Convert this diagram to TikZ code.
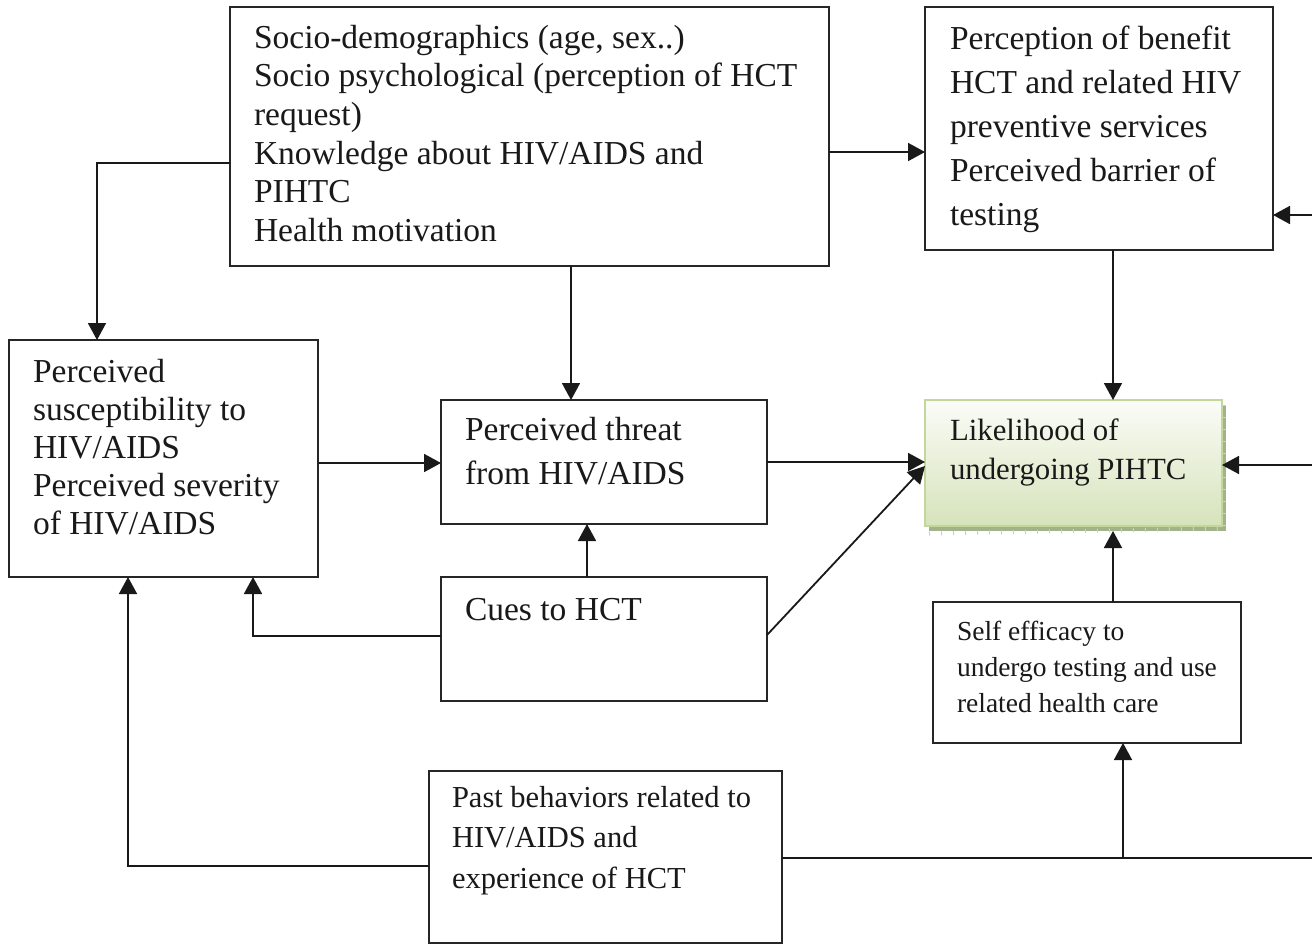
\documentclass[tikz,border=0pt]{standalone}
\usepackage{fontspec}
\setmainfont{Liberation Serif}
\usetikzlibrary{arrows.meta}
\definecolor{likgreen}{HTML}{D6E3BA}
\definecolor{liktop}{HTML}{FBFCF8}
\definecolor{likborder}{HTML}{C3D69B}
\definecolor{likshadow}{HTML}{A2B38A}
\definecolor{likshtick}{HTML}{C9D3B8}
\newcommand\fMain{\fontsize{16.75}{19.35}\selectfont}
\newcommand\fPerc{\fontsize{16.75}{22}\selectfont}
\newcommand\fSusc{\fontsize{16.75}{19.1}\selectfont}
\newcommand\fLik{\fontsize{15.4}{19.5}\selectfont}
\newcommand\fSelf{\fontsize{13.75}{18.15}\selectfont}
\newcommand\fPast{\fontsize{15.25}{20.25}\selectfont}
\newcommand\fs{\rule{0pt}{1em}}
\begin{document}
\begin{tikzpicture}[x=0.5pt,y=-0.5pt,
  box/.style={draw=black!85, line width=0.8pt, anchor=north west, inner sep=0pt, outer sep=0pt, fill=white},
  txt/.style={anchor=north west, inner sep=0pt, outer sep=0pt, align=left, text=black!90},
  arr/.style={draw=black!90, line width=0.9pt, -{Triangle[length=8.5pt,width=9pt]}},
  ln/.style={draw=black!90, line width=0.9pt}]
\useasboundingbox (0,0) rectangle (1312,944);
\fill[white] (0,0) rectangle (1312,944);

% boxes
\node[box, minimum width=299.5pt, minimum height=129.5pt] (top) at (230,7) {};
\node[box, minimum width=174pt, minimum height=121.5pt] (perc) at (925,7) {};
\node[box, minimum width=154.5pt, minimum height=118.5pt] (susc) at (9,340) {};
\node[box, minimum width=163pt, minimum height=62pt] (threat) at (441,400) {};
\node[box, minimum width=163pt, minimum height=62pt] (cues) at (441,577) {};
\node[box, minimum width=154pt, minimum height=70.5pt] (self) at (933,602) {};
\node[box, minimum width=176.5pt, minimum height=86pt] (past) at (429,771) {};
% likelihood box with shadow
\node[anchor=north west, inner sep=0pt, outer sep=0pt, fill=likshadow, minimum width=148.5pt, minimum height=63pt] (likS) at (929,405) {};
\draw[likshtick, line width=2pt, dash pattern=on 0.5pt off 5.5pt] (likS.south west) ++(0,2.5) -- ([yshift=1.25pt]likS.south east);
\draw[likshtick, line width=2pt, dash pattern=on 0.5pt off 5.5pt] ([xshift=-1.25pt]likS.north east) -- ([xshift=-1.25pt]likS.south east);
\node[anchor=north west, inner sep=0pt, outer sep=0pt, draw=likborder, line width=1.3pt, top color=liktop, bottom color=likgreen, minimum width=148.5pt, minimum height=63pt] (lik) at (925,400) {};

% texts
\node[txt, font=\fMain] (topT) at (254,14.5) {\fs Socio-demographics (age, sex..)\\Socio psychological (perception of HCT\\request)\\Knowledge about HIV/AIDS and\\PIHTC\\Health motivation};
\node[txt, font=\fPerc] (percT) at (950,15.5) {\fs Perception of benefit\\HCT and related HIV\\preventive services\\Perceived barrier of\\testing};
\node[txt, font=\fSusc] (suscT) at (33,348.5) {\fs Perceived\\susceptibility to\\HIV/AIDS\\Perceived severity\\of HIV/AIDS};
\node[txt, font=\fPerc] (threatT) at (465,406.5) {\fs Perceived threat\\from HIV/AIDS};
\node[txt, font=\fMain] (cuesT) at (465,586.5) {\fs Cues to HCT};
\node[txt, font=\fLik] (likT) at (950,409.2) {\fs Likelihood of\\undergoing PIHTC};
\node[txt, font=\fSelf] (selfT) at (957,612.5) {\fs Self efficacy to\\undergo testing and use\\related health care};
\node[txt, font=\fPast] (pastT) at (452,776.5) {\fs Past behaviors related to\\HIV/AIDS and\\experience of HCT};

% helper coordinates
\coordinate (kA) at (97,163);
\coordinate (kB) at (253,636);
\coordinate (kC) at (128,866);
\coordinate (kD) at (1123,858);
\coordinate (xE) at (571,0);
\coordinate (yF) at (0,152);
\coordinate (xG) at (1113,0);
\coordinate (yH) at (0,463);
\coordinate (yI) at (0,635);
\coordinate (xJ) at (587,0);
\coordinate (eR1) at (1312,215);
\coordinate (eR2) at (1312,465);
\coordinate (eR3) at (1312,858);

% connectors
\draw[arr] (top.west |- kA) -- (kA) -- (susc.north -| kA);
\draw[arr] (top.south -| xE) -- (threat.north -| xE);
\draw[arr] (top.east |- yF) -- (perc.west |- yF);
\draw[arr] (perc.south -| xG) -- (lik.north -| xG);
\draw[arr] (eR1) -- (perc.east |- eR1);
\draw[arr] (eR2) -- (lik.east |- eR2);
\draw[arr] (susc.east |- yH) -- (threat.west |- yH);
\draw[arr] (threat.east) -- (lik.west |- threat.east);
\draw[arr] (cues.east |- yI) -- ([yshift=-1.5pt]lik.west);
\draw[arr] (cues.north -| xJ) -- (threat.south -| xJ);
\draw[arr] (cues.west |- kB) -- (kB) -- (susc.south -| kB);
\draw[arr] (past.west |- kC) -- (kC) -- (susc.south -| kC);
\draw[arr] (self.north -| xG) -- (likS.south -| xG);
\draw[ln] (past.east |- eR3) -- (eR3);
\draw[arr] (kD) -- (self.south -| kD);
\end{tikzpicture}
\end{document}
